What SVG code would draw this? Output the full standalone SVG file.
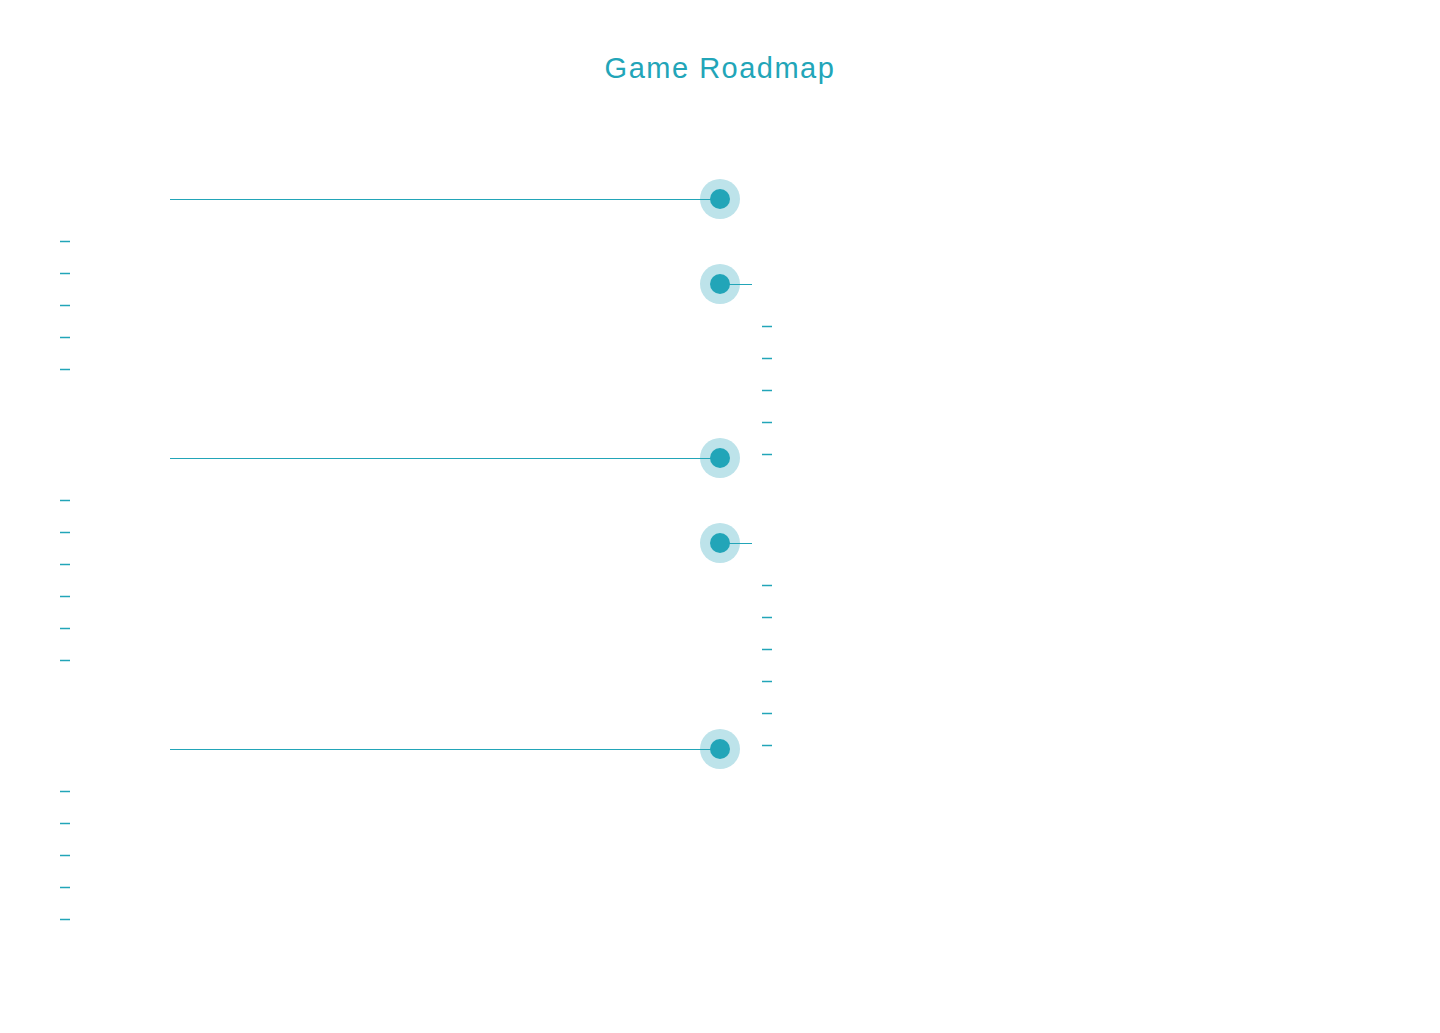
<svg xmlns="http://www.w3.org/2000/svg" width="1440" height="1033" viewBox="0 0 1440 1033">
<style>
.title{font-family:"Liberation Sans","DejaVu Sans",sans-serif;font-size:29px;fill:#22a5b8;text-anchor:middle;letter-spacing:1.5px}
.halo{fill:#bde3ea}
.dot{fill:#22a5b8}
.conn{stroke:#22a5b8;stroke-width:1;fill:none}
.dash{stroke:#22a5b8;stroke-width:1.5}
</style>
<rect width="1440" height="1033" fill="#ffffff"/>
<text class="title" x="720" y="78">Game Roadmap</text>
<g id="node1"><circle class="halo" cx="720" cy="199" r="20"/><circle class="dot" cx="720" cy="199" r="10"/>
<g class="dash"><line x1="60" y1="241.5" x2="70" y2="241.5"/><line x1="60" y1="273.5" x2="70" y2="273.5"/><line x1="60" y1="305.5" x2="70" y2="305.5"/><line x1="60" y1="337.5" x2="70" y2="337.5"/><line x1="60" y1="369.5" x2="70" y2="369.5"/></g></g>
<g id="node2"><circle class="halo" cx="720" cy="284" r="20"/><circle class="dot" cx="720" cy="284" r="10"/>
<g class="dash"><line x1="762" y1="326.5" x2="772" y2="326.5"/><line x1="762" y1="358.5" x2="772" y2="358.5"/><line x1="762" y1="390.5" x2="772" y2="390.5"/><line x1="762" y1="422.5" x2="772" y2="422.5"/><line x1="762" y1="454.5" x2="772" y2="454.5"/></g></g>
<g id="node3"><circle class="halo" cx="720" cy="458" r="20"/><circle class="dot" cx="720" cy="458" r="10"/>
<g class="dash"><line x1="60" y1="500.5" x2="70" y2="500.5"/><line x1="60" y1="532.5" x2="70" y2="532.5"/><line x1="60" y1="564.5" x2="70" y2="564.5"/><line x1="60" y1="596.5" x2="70" y2="596.5"/><line x1="60" y1="628.5" x2="70" y2="628.5"/><line x1="60" y1="660.5" x2="70" y2="660.5"/></g></g>
<g id="node4"><circle class="halo" cx="720" cy="543" r="20"/><circle class="dot" cx="720" cy="543" r="10"/>
<g class="dash"><line x1="762" y1="585.5" x2="772" y2="585.5"/><line x1="762" y1="617.5" x2="772" y2="617.5"/><line x1="762" y1="649.5" x2="772" y2="649.5"/><line x1="762" y1="681.5" x2="772" y2="681.5"/><line x1="762" y1="713.5" x2="772" y2="713.5"/><line x1="762" y1="745.5" x2="772" y2="745.5"/></g></g>
<g id="node5"><circle class="halo" cx="720" cy="749" r="20"/><circle class="dot" cx="720" cy="749" r="10"/>
<g class="dash"><line x1="60" y1="791.5" x2="70" y2="791.5"/><line x1="60" y1="823.5" x2="70" y2="823.5"/><line x1="60" y1="855.5" x2="70" y2="855.5"/><line x1="60" y1="887.5" x2="70" y2="887.5"/><line x1="60" y1="919.5" x2="70" y2="919.5"/></g></g>
<g id="connectors">
<line class="conn" x1="170" y1="199.5" x2="712" y2="199.5"/>
<line class="conn" x1="728" y1="284.5" x2="752" y2="284.5"/>
<line class="conn" x1="170" y1="458.5" x2="712" y2="458.5"/>
<line class="conn" x1="728" y1="543.5" x2="752" y2="543.5"/>
<line class="conn" x1="170" y1="749.5" x2="712" y2="749.5"/>
</g>
</svg>
